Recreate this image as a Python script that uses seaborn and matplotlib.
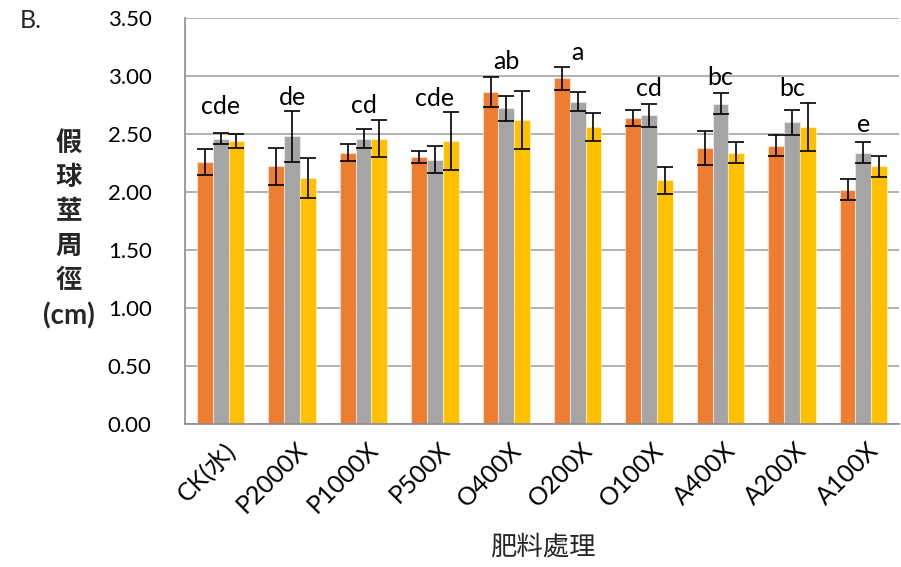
import numpy as np
import pandas as pd
import seaborn as sns
import matplotlib
matplotlib.use("Agg")
import matplotlib.pyplot as plt
from matplotlib import transforms

# Treatments and the three replicate series (pseudobulb circumference, cm)
treatments = ["CK(水)", "P2000X", "P1000X", "P500X", "O400X",
              "O200X", "O100X", "A400X", "A200X", "A100X"]
series_names = ["第一批", "第二批", "第三批"]

mean_s1 = [2.26, 2.22, 2.34, 2.30, 2.86, 2.98, 2.64, 2.38, 2.40, 2.02]
mean_s2 = [2.46, 2.48, 2.46, 2.28, 2.72, 2.78, 2.66, 2.76, 2.60, 2.34]
mean_s3 = [2.44, 2.12, 2.46, 2.44, 2.62, 2.56, 2.10, 2.34, 2.56, 2.22]

err_s1 = [0.11, 0.16, 0.07, 0.05, 0.13, 0.10, 0.07, 0.15, 0.09, 0.09]
err_s2 = [0.05, 0.22, 0.08, 0.12, 0.11, 0.085, 0.10, 0.09, 0.11, 0.09]
err_s3 = [0.06, 0.17, 0.16, 0.25, 0.25, 0.12, 0.115, 0.09, 0.21, 0.09]

# Significance groups and the height (cm) at which each is written
letters = ["cde", "de", "cd", "cde", "ab", "a", "cd", "bc", "bc", "e"]
letter_height = [2.67, 2.75, 2.685, 2.74, 3.06, 3.14, 2.83, 2.92, 2.83, 2.52]

y_ticks = [0.0, 0.5, 1.0, 1.5, 2.0, 2.5, 3.0, 3.5]

colors = ["#ED7D31", "#A5A5A5", "#FFC000"]

df = pd.DataFrame({
    "處理": treatments * 3,
    "系列": np.repeat(series_names, len(treatments)),
    "值": mean_s1 + mean_s2 + mean_s3,
    "誤差": err_s1 + err_s2 + err_s3,
})

sns.set_theme(style="white")
latin = "Lato"
cjk = "Noto Sans CJK TC"
plt.rcParams["font.family"] = [latin, cjk, "DejaVu Sans"]

fig = plt.figure(figsize=(9.01, 5.67), dpi=100)
ax = fig.add_axes([185 / 901, 1 - 424 / 567, (899 - 185) / 901, (424 - 18) / 567])

sns.barplot(data=df, x="處理", y="值", hue="系列", hue_order=series_names,
            order=treatments, palette=colors, saturation=1, width=0.663,
            errorbar=None, legend=False, ax=ax,
            edgecolor=(1, 1, 1, 0.45), linewidth=0.8)

# Error bars on each bar, positioned from the drawn patches
errs = [err_s1, err_s2, err_s3]
means = [mean_s1, mean_s2, mean_s3]
for cont, m, e in zip(ax.containers, means, errs):
    xs = [p.get_x() + p.get_width() / 2 for p in cont.patches]
    ax.errorbar(xs, m, yerr=e, fmt="none", ecolor="black",
                elinewidth=1.2, capsize=6, capthick=1.2, zorder=5)

# Significance letters
for i, (lab, h) in enumerate(zip(letters, letter_height)):
    ax.text(i, h, lab, ha="center", va="baseline", fontsize=18,
            family=[latin, cjk], color="black")

ax.set_ylim(0, 3.5)
ax.set_xlim(-0.5, len(treatments) - 0.5)
ax.set_yticks(y_ticks)
ax.set_yticklabels([f"{v:.2f}" for v in y_ticks], fontsize=16, color="black")
ax.yaxis.grid(True, color="#A6A6A6", linewidth=1.2)
ax.xaxis.grid(False)
ax.set_axisbelow(True)

for side in ["top", "right"]:
    ax.spines[side].set_visible(False)
for side in ["left", "bottom"]:
    ax.spines[side].set_color("#8C8C8C")
    ax.spines[side].set_linewidth(1.2)

ax.tick_params(axis="y", which="major", direction="out", length=6,
               width=1.2, color="#8C8C8C", pad=18)
ax.tick_params(axis="x", length=0, pad=10)

ax.set_xticks(range(len(treatments)))
ax.set_xticklabels(treatments, rotation=45, ha="right",
                   rotation_mode="anchor", fontsize=18, color="black")
shift = transforms.ScaledTranslation(3 / 100, 0, fig.dpi_scale_trans)
for t in ax.get_xticklabels():
    t.set_transform(t.get_transform() + shift)

ax.set_xlabel("")
ax.set_ylabel("")

fig.text(543 / 901, 1 - 547 / 567, "肥料處理", ha="center", va="center",
         fontsize=19, family=[cjk, latin])
# Vertical y-axis title: stacked characters, then the unit
fig.text(69 / 901, 1 - 212 / 567, "假\n球\n莖\n周\n徑", ha="center",
         va="center", fontsize=19, fontweight="bold", linespacing=1.35,
         family=[cjk, latin])
fig.text(69 / 901, 1 - 316 / 567, "(cm)", ha="center", va="center",
         fontsize=20, fontweight="bold", family=[latin, cjk])
fig.text(20 / 901, 1 - 20 / 567, "B.", ha="left", va="center", fontsize=18,
         family=[latin, cjk])

fig.savefig("out.png", dpi=100)
